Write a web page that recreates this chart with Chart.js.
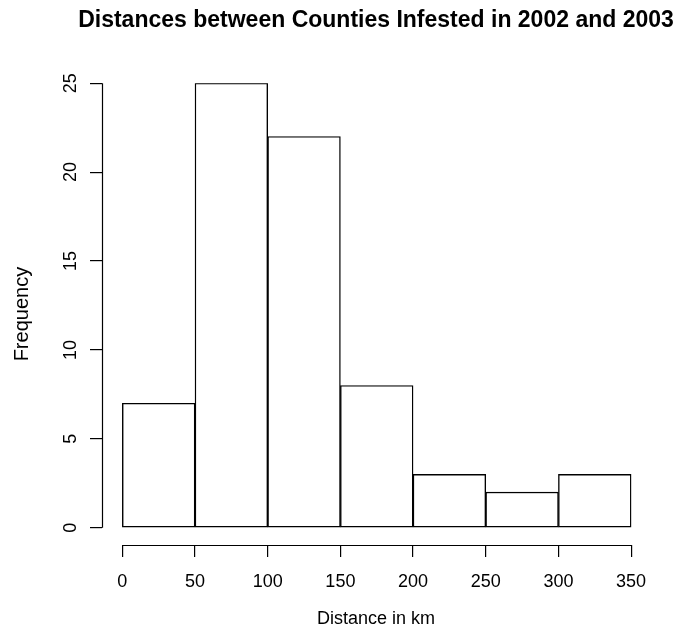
<!DOCTYPE html>
<html>
<head>
<meta charset="utf-8">
<script src="https://cdn.jsdelivr.net/npm/chart.js@4.4.1/dist/chart.umd.min.js"></script>
<style>
  html, body { margin: 0; padding: 0; background: #ffffff; }
  #wrap { width: 692px; height: 630px; }
</style>
</head>
<body>
<div id="wrap"><canvas id="c" width="692" height="630"></canvas></div>
<script>
// ---- data ----
const binStarts = [0, 50, 100, 150, 200, 250, 300];
const binWidth = 50;
const counts = [7, 25, 22, 8, 3, 2, 3];
const xTickValues = [0, 50, 100, 150, 200, 250, 300, 350];
const yTickValues = [0, 5, 10, 15, 20, 25];
const titleText = 'Distances between Counties Infested in 2002 and 2003';
const xAxisTitle = 'Distance in km';
const yAxisTitle = 'Frequency';

const points = binStarts.map((s, i) => ({ x: s + binWidth / 2, y: counts[i] }));

const FONT = "'Liberation Sans', Arial, Helvetica, sans-serif";
Chart.defaults.color = '#000';
Chart.defaults.font.family = FONT;

// R-style axes: lines only span from first to last tick
const rAxes = {
  id: 'rAxes',
  afterLayout(chart) {
    // let the title use more width than the plot area (no squeezing), keep it centred
    const t = chart.titleBlock;
    if (t) {
      const c = (t.left + t.right) / 2;
      t.left = c - 315; t.right = c + 315; t.width = 630;
    }
  },
  afterDraw(chart) {
    const { ctx, chartArea, scales } = chart;
    const xs = scales.x, ys = scales.y;
    ctx.save();
    ctx.strokeStyle = '#000';
    ctx.lineWidth = 1.2;
    ctx.beginPath();
    const yb = Math.round(chartArea.bottom) + 0.5;
    ctx.moveTo(xs.getPixelForValue(xTickValues[0]), yb);
    ctx.lineTo(xs.getPixelForValue(xTickValues[xTickValues.length - 1]), yb);
    const xl = Math.round(chartArea.left) + 0.5;
    ctx.moveTo(xl, ys.getPixelForValue(yTickValues[0]));
    ctx.lineTo(xl, ys.getPixelForValue(yTickValues[yTickValues.length - 1]));
    ctx.stroke();
    ctx.restore();
  }
};

new Chart(document.getElementById('c'), {
  type: 'bar',
  data: {
    datasets: [{
      data: points,
      backgroundColor: '#ffffff',
      borderColor: '#000000',
      borderWidth: 1.4,
      borderSkipped: false,
      barPercentage: 1,
      categoryPercentage: 1
    }]
  },
  options: {
    responsive: false,
    animation: false,
    devicePixelRatio: 1,
    layout: { padding: { left: 0, top: 0, bottom: 0, right: 42 } },
    plugins: {
      legend: { display: false },
      tooltip: { enabled: false },
      title: {
        display: true,
        text: titleText,
        fullSize: false,
        color: '#000',
        font: { family: FONT, size: 23, weight: 'bold', lineHeight: 1.2 },
        padding: { top: 7, bottom: 48.6 }
      }
    },
    scales: {
      x: {
        type: 'linear',
        offset: false,
        min: -14,
        max: 363,
        afterBuildTicks(s) { s.ticks = xTickValues.map(v => ({ value: v })); },
        afterFit(s) { s.height = 85; s.paddingLeft = 0; s.paddingRight = 0; },
        grid: { display: true, offset: false, drawOnChartArea: false, drawTicks: true, tickLength: 12, color: '#000', lineWidth: 1.2 },
        border: { display: false },
        ticks: { font: { size: 18 }, padding: 14, maxRotation: 0, minRotation: 0, color: '#000',
                 callback: v => String(v) },
        title: { display: true, text: xAxisTitle, font: { size: 18 }, padding: { top: 0, bottom: 0 }, color: '#000' }
      },
      y: {
        type: 'linear',
        min: -0.973,
        max: 25,
        afterBuildTicks(s) { s.ticks = yTickValues.map(v => ({ value: v })); },
        afterFit(s) { s.width = 102; s.paddingTop = 0; s.paddingBottom = 0; },
        grid: { display: true, offset: false, drawOnChartArea: false, drawTicks: true, tickLength: 12, color: '#000', lineWidth: 1.2 },
        border: { display: false },
        ticks: { font: { size: 18 }, padding: 9, minRotation: 90, maxRotation: 90, crossAlign: 'center', color: '#000',
                 callback: v => String(v) },
        title: { display: true, text: yAxisTitle, font: { size: 20 }, padding: { top: 10, bottom: 0 }, color: '#000' }
      }
    }
  },
  plugins: [rAxes]
});
</script>
</body>
</html>
